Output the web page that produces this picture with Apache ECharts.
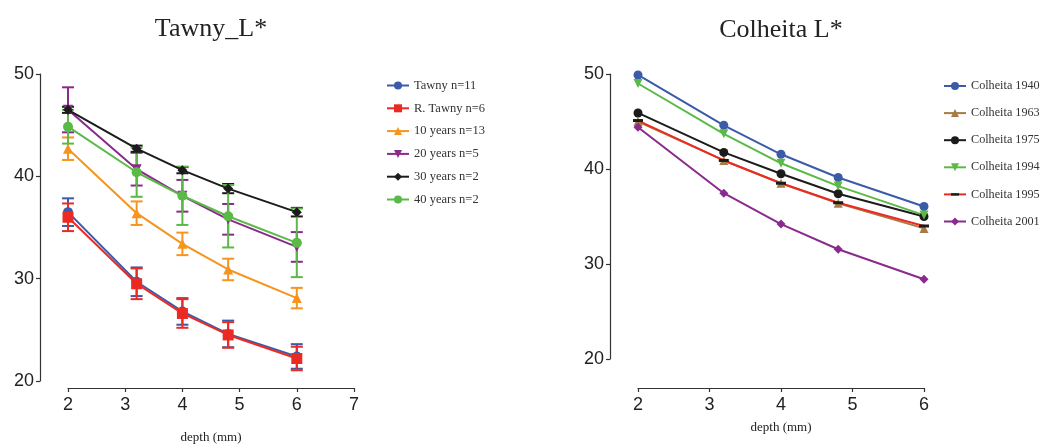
<!DOCTYPE html>
<html>
<head>
<meta charset="utf-8">
<script src="https://cdn.jsdelivr.net/npm/echarts@6/dist/echarts.min.js"></script>
<style>
  html, body { margin: 0; padding: 0; background: #fff; }
  #chart { width: 1042px; height: 447px; }
</style>
</head>
<body>
<div id="chart"></div>
<script>
// Sampling depths (mm), shared by both panels
const depths = [2, 3.2, 4, 4.8, 6];

// Left panel: Tawny L* means and standard deviations
const tawnyNames = ['Tawny n=11', 'R. Tawny n=6', '10 years n=13', '20 years n=5', '30 years n=2', '40 years n=2'];
const tawny     = [36.5, 29.7, 26.8, 24.6, 22.4];
const tawnyErr  = [1.35, 1.4, 1.3, 1.3, 1.2];
const rTawny    = [36.0, 29.5, 26.6, 24.5, 22.2];
const rTawnyErr = [1.35, 1.5, 1.4, 1.25, 1.15];
const y10       = [42.7, 36.4, 33.4, 30.9, 28.1];
const y10Err    = [1.1, 1.15, 1.1, 1.05, 1.0];
const y20       = [46.5, 40.7, 38.1, 35.8, 33.1];
const y20Err    = [2.2, 1.6, 1.55, 1.5, 1.45];
const y30       = [46.5, 42.7, 40.6, 38.8, 36.5];
const y30Err    = [0.3, 0.3, 0.3, 0.45, 0.42];
const y40       = [44.85, 40.4, 38.1, 36.1, 33.5];
const y40Err    = [1.65, 2.4, 2.85, 3.05, 3.35];

// Right panel: Colheita L* by vintage
const colheitaNames = ['Colheita 1940', 'Colheita 1963', 'Colheita 1975', 'Colheita 1994', 'Colheita 1995', 'Colheita 2001'];
const c1940 = [49.9, 44.6, 41.55, 39.1, 36.05];
const c1963 = [45.0, 40.9, 38.5, 36.4, 33.75];
const c1975 = [45.9, 41.75, 39.5, 37.4, 35.0];
const c1994 = [49.0, 43.7, 40.6, 38.2, 35.15];
const c1995 = [45.1, 40.9, 38.5, 36.45, 34.0];
const c2001 = [44.4, 37.45, 34.2, 31.55, 28.4];

// Tick labels
const yTicks = [20, 30, 40, 50];
const xTicksLeft = [2, 3, 4, 5, 6, 7];
const xTicksRight = [2, 3, 4, 5, 6];

const C = {
  blue: '#3b5ba9', red: '#ec2a24', orange: '#f7941d', purple: '#8a2a8c',
  black: '#1b1b1b', green: '#5bb947', brown: '#a87a45'
};
const invTriangle = 'path://M0,0 L10,0 L5,9 Z';
// Flat bar marker; the two leading move-to points keep a square bounding box
// so the bar stays thin wherever the symbol is drawn in a square slot.
const dash = 'path://M0,0 M10,10 M0,3.5 L10,3.5 L10,6.5 L0,6.5 Z';

function lineSeries(name, data, color, symbol, size, axis, extra) {
  return Object.assign({
    type: 'line', name: name,
    xAxisIndex: axis, yAxisIndex: axis,
    data: depths.map((d, i) => [d, data[i]]),
    symbol: symbol, symbolSize: size, showSymbol: true,
    lineStyle: { color: color, width: 2 },
    itemStyle: { color: color },
    z: 3, animation: false
  }, extra || {});
}

function errorSeries(means, errs, color, axis) {
  return {
    type: 'custom', name: '_err', silent: true, animation: false,
    xAxisIndex: axis, yAxisIndex: axis, z: 2,
    data: depths.map((d, i) => [d, means[i] - errs[i], means[i] + errs[i]]),
    encode: { x: 0, y: [1, 2] },
    renderItem: function (params, api) {
      const x = api.value(0);
      const lo = api.coord([x, api.value(1)]);
      const hi = api.coord([x, api.value(2)]);
      const w = 6;
      const st = { stroke: color, lineWidth: 2 };
      return {
        type: 'group',
        children: [
          { type: 'line', shape: { x1: lo[0], y1: lo[1], x2: hi[0], y2: hi[1] }, style: st },
          { type: 'line', shape: { x1: lo[0] - w, y1: lo[1], x2: lo[0] + w, y2: lo[1] }, style: st },
          { type: 'line', shape: { x1: hi[0] - w, y1: hi[1], x2: hi[0] + w, y2: hi[1] }, style: st }
        ]
      };
    }
  };
}

const axisCommon = {
  axisLine: { show: true, lineStyle: { color: '#333', width: 1.2 } },
  axisTick: { show: true, length: 4, lineStyle: { color: '#333', width: 1.2 } },
  splitLine: { show: false },
  axisLabel: { color: '#222', fontFamily: 'Liberation Sans', fontSize: 18 }
};

function yAxis(gridIndex) {
  return Object.assign({}, axisCommon, {
    type: 'value', gridIndex: gridIndex, min: 20, max: 50, interval: 10,
    position: 'left', offset: 28,
    axisLabel: Object.assign({}, axisCommon.axisLabel, {
      margin: 6,
      formatter: v => yTicks.includes(v) ? String(v) : ''
    })
  });
}

function xAxis(gridIndex, max, ticks, offset, nameGap) {
  return Object.assign({}, axisCommon, {
    type: 'value', gridIndex: gridIndex, min: 2, max: max, interval: 1,
    position: 'bottom', offset: offset,
    name: 'depth (mm)', nameLocation: 'middle', nameGap: nameGap,
    nameTextStyle: { fontFamily: 'Liberation Serif', fontSize: 13, color: '#222' },
    axisLabel: Object.assign({}, axisCommon.axisLabel, {
      margin: 8,
      formatter: v => ticks.includes(v) ? String(v) : ''
    })
  });
}

const legendText = { fontFamily: 'Liberation Serif', fontSize: 12.5, color: '#333' };

const option = {
  backgroundColor: '#fff',
  animation: false,
  title: [
    { text: 'Tawny_L*', left: 206, top: 11, textAlign: 'center',
      textStyle: { fontFamily: 'Liberation Serif', fontSize: 26, fontWeight: 'normal', color: '#222' } },
    { text: 'Colheita L*', left: 776, top: 12, textAlign: 'center',
      textStyle: { fontFamily: 'Liberation Serif', fontSize: 26, fontWeight: 'normal', color: '#222' } }
  ],
  grid: [
    { left: 68, width: 286, top: 74, height: 307, outerBoundsMode: 'none' },
    { left: 638, width: 286, top: 74, height: 285, outerBoundsMode: 'none' }
  ],
  xAxis: [
    xAxis(0, 7, xTicksLeft, 7, 43),
    xAxis(1, 6, xTicksRight, 29, 33)
  ],
  yAxis: [yAxis(0), yAxis(1)],
  legend: [
    { data: tawnyNames, orient: 'vertical', left: 381, top: 74,
      itemWidth: 22, itemHeight: 10, itemGap: 9.8, textStyle: legendText, selectedMode: false },
    { data: colheitaNames, orient: 'vertical', left: 938, top: 75,
      itemWidth: 22, itemHeight: 10, itemGap: 15.1,
      textStyle: Object.assign({}, legendText, { fontSize: 12.2 }), selectedMode: false }
  ],
  series: [
    lineSeries(tawnyNames[0], tawny, C.blue, 'circle', 10, 0),
    errorSeries(tawny, tawnyErr, C.blue, 0),
    lineSeries(tawnyNames[1], rTawny, C.red, 'rect', 11, 0),
    errorSeries(rTawny, rTawnyErr, C.red, 0),
    lineSeries(tawnyNames[2], y10, C.orange, 'triangle', 10, 0),
    errorSeries(y10, y10Err, C.orange, 0),
    lineSeries(tawnyNames[3], y20, C.purple, invTriangle, 10, 0),
    errorSeries(y20, y20Err, C.purple, 0),
    lineSeries(tawnyNames[4], y30, C.black, 'diamond', 10, 0),
    errorSeries(y30, y30Err, C.black, 0),
    lineSeries(tawnyNames[5], y40, C.green, 'circle', 10, 0),
    errorSeries(y40, y40Err, C.green, 0),

    lineSeries(colheitaNames[0], c1940, C.blue, 'circle', 9, 1),
    lineSeries(colheitaNames[1], c1963, C.brown, 'triangle', 9, 1),
    lineSeries(colheitaNames[2], c1975, C.black, 'circle', 9, 1),
    lineSeries(colheitaNames[3], c1994, C.green, invTriangle, 9, 1),
    lineSeries(colheitaNames[4], c1995, C.red, dash, 10, 1, { itemStyle: { color: C.black } }),
    lineSeries(colheitaNames[5], c2001, C.purple, 'diamond', 9, 1)
  ]
};

const chart = echarts.init(document.getElementById('chart'), null, { renderer: 'canvas' });
chart.setOption(option);
</script>
</body>
</html>
